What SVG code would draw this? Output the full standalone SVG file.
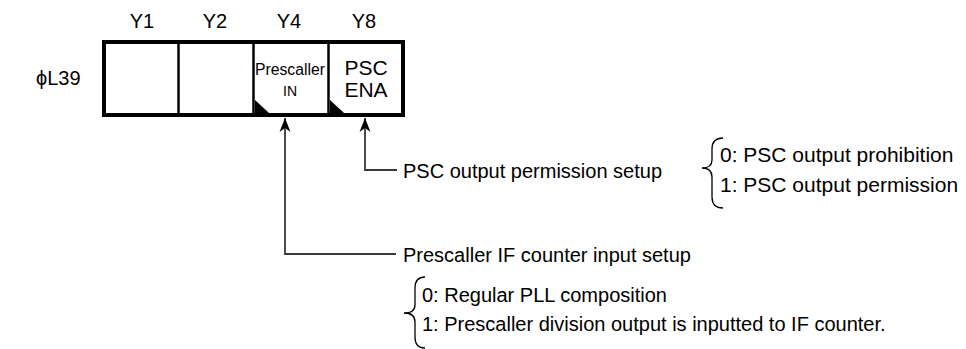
<svg xmlns="http://www.w3.org/2000/svg" width="966" height="349" viewBox="0 0 966 349">
<defs>
<style>
text{font-family:"Liberation Sans",Arial,sans-serif;fill:#000}
.lbl{font-size:20px;text-anchor:middle}
.t{font-size:20px}
.t2{font-size:21px}
.conn{fill:none;stroke:#3a3a3a;stroke-width:1.8}
.brace{fill:none;stroke:#000;stroke-width:1.3}
</style>
<marker id="arr" viewBox="0 0 14 12" refX="14" refY="6" markerWidth="14" markerHeight="12" markerUnits="userSpaceOnUse" orient="auto">
<path d="M0,0.5 L14,6 L0,11.5 L4,6 Z" fill="#000"/>
</marker>
</defs>
<rect width="966" height="349" fill="#fff"/>
<g id="headers">
<text class="lbl" x="142" y="28">Y1</text>
<text class="lbl" x="215" y="28">Y2</text>
<text class="lbl" x="289" y="28">Y4</text>
<text class="lbl" x="364" y="28">Y8</text>
</g>
<g id="reg-label"><text x="36" y="85" style="font-size:20px">ϕL39</text></g>
<g id="register">
<rect x="104" y="42" width="299" height="73" fill="#fff" stroke="#000" stroke-width="4"/>
<line x1="178.5" y1="42" x2="178.5" y2="115" stroke="#000" stroke-width="2.5"/>
<line x1="253.5" y1="42" x2="253.5" y2="115" stroke="#000" stroke-width="2.5"/>
<line x1="328.5" y1="42" x2="328.5" y2="115" stroke="#000" stroke-width="2.5"/>
</g>
<g id="cell-y4">
<path d="M255,100 L255,113 L269,113 Z" fill="#000"/>
<text x="290" y="75" style="font-size:16px;text-anchor:middle" textLength="70" lengthAdjust="spacingAndGlyphs">Prescaller</text>
<text x="290" y="96" style="font-size:14px;text-anchor:middle">IN</text>
</g>
<g id="cell-y8">
<path d="M330,100 L330,113 L344,113 Z" fill="#000"/>
<text x="366" y="75" style="font-size:21px;text-anchor:middle">PSC</text>
<text x="366" y="97" style="font-size:21px;text-anchor:middle">ENA</text>
</g>
<g id="connectors">
<path class="conn" d="M397,170 L365,170 L365,118" marker-end="url(#arr)"/>
<path class="conn" d="M396,254 L285,254 L285,118" marker-end="url(#arr)"/>
</g>
<g id="psc-setup">
<text class="t" x="403" y="178">PSC output permission setup</text>
<path class="brace" d="M723,138 Q712,138 712,149 L712,160 Q712,168 702,168 Q712,168 712,177 L712,197 Q712,208 723,208"/>
<text class="t2" x="720" y="162">0: PSC output prohibition</text>
<text class="t2" x="720" y="192">1: PSC output permission</text>
</g>
<g id="prescaller-setup">
<text class="t" x="403" y="262">Prescaller IF counter input setup</text>
<path class="brace" d="M425,277 Q415,277 415,288 L415,305 Q415,313 404,313 Q415,313 415,322 L415,337 Q415,348 425,348"/>
<text class="t" x="422" y="302">0: Regular PLL composition</text>
<text class="t" x="422" y="331">1: Prescaller division output is inputted to IF counter.</text>
</g>
</svg>
